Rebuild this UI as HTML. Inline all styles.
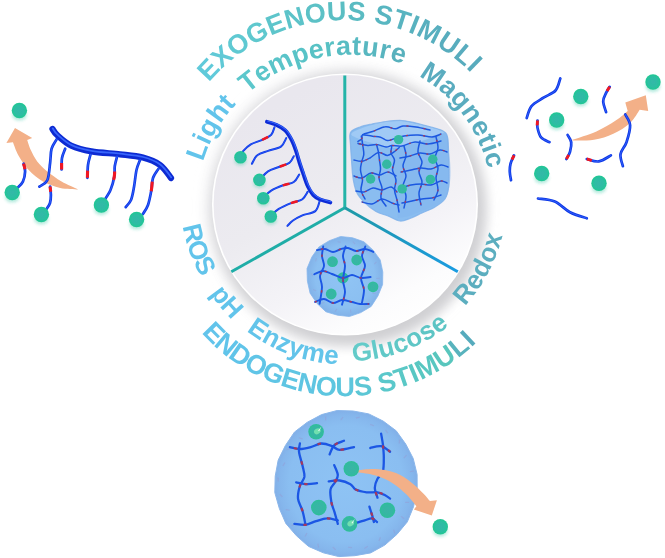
<!DOCTYPE html>
<html><head><meta charset="utf-8"><style>
html,body{margin:0;padding:0;background:#fff;width:665px;height:558px;overflow:hidden}
</style></head><body>

<svg width="665" height="558" viewBox="0 0 665 558" style="position:absolute;left:0;top:0">
<defs>
  <linearGradient id="gDisk" gradientUnits="userSpaceOnUse" x1="285" y1="100" x2="415" y2="330">
    <stop offset="0" stop-color="#e9e7ee"/><stop offset="0.38" stop-color="#ecebf0"/><stop offset="0.66" stop-color="#f4f3f7"/><stop offset="0.86" stop-color="#fcfcfd"/><stop offset="1" stop-color="#ffffff"/>
  </linearGradient>
  <filter id="soft" x="-5%" y="-5%" width="110%" height="110%"><feGaussianBlur stdDeviation="0.35"/></filter>
  <filter id="blur1" x="-50%" y="-50%" width="200%" height="200%"><feGaussianBlur stdDeviation="1"/></filter>
  <filter id="blur2" x="-50%" y="-50%" width="200%" height="200%"><feGaussianBlur stdDeviation="1.6"/></filter>
  <filter id="blur6" x="-20%" y="-20%" width="140%" height="140%"><feGaussianBlur stdDeviation="6"/></filter>
  <linearGradient id="gLineR" gradientUnits="userSpaceOnUse" x1="345" y1="208" x2="458" y2="272">
    <stop offset="0" stop-color="#1f9aa6"/><stop offset="0.5" stop-color="#1c98c4"/><stop offset="1" stop-color="#1a9ce2"/>
  </linearGradient>
  <linearGradient id="gArrow" x1="0" y1="0" x2="1" y2="0">
    <stop offset="0" stop-color="#f5b08a"/><stop offset="1" stop-color="#f3a676"/>
  </linearGradient>
</defs>
<rect width="665" height="558" fill="#fff"/>
<!-- disk shadow -->
<ellipse cx="346" cy="206.5" rx="141" ry="140" fill="#eeeef0" filter="url(#blur6)"/>
<ellipse cx="349" cy="209.5" rx="136" ry="135" fill="#cfcfd2" filter="url(#blur6)"/>
<ellipse cx="345" cy="204.5" rx="133" ry="131" fill="#ffffff"/>
<ellipse cx="345" cy="204.5" rx="131.4" ry="129.5" fill="url(#gDisk)"/>
<!-- dividers -->
<g stroke-width="3" stroke-linecap="butt">
  <line x1="344.8" y1="75.5" x2="344.8" y2="209" stroke="#24b4a8"/>
  <line x1="344.8" y1="207.8" x2="231.3" y2="271.8" stroke="#1fada7"/>
  <line x1="344.8" y1="207.8" x2="457.8" y2="271.8" stroke="url(#gLineR)"/>
</g>
<g filter="url(#soft)"><defs>
  <radialGradient id="gBall" cx="0.5" cy="0.5" r="0.5">
    <stop offset="0" stop-color="#32b8a8"/><stop offset="0.65" stop-color="#2cbea2"/><stop offset="1" stop-color="#1fc892"/>
  </radialGradient>
  <radialGradient id="gBallIn" cx="0.5" cy="0.5" r="0.5">
    <stop offset="0" stop-color="#3ab4a6"/><stop offset="0.7" stop-color="#34b8a2"/><stop offset="1" stop-color="#2cc096"/>
  </radialGradient>
  <radialGradient id="gSph" cx="0.5" cy="0.5" r="0.5">
    <stop offset="0" stop-color="#90c4f4"/><stop offset="0.78" stop-color="#8bbff1"/><stop offset="1" stop-color="#82b2e8"/>
  </radialGradient>
  <radialGradient id="gSphB" cx="0.5" cy="0.5" r="0.5">
    <stop offset="0" stop-color="#8ec3f4"/><stop offset="0.8" stop-color="#8abef1"/><stop offset="0.94" stop-color="#85b6ec"/><stop offset="1" stop-color="#82b0e8"/>
  </radialGradient>
</defs><path d="M78.1,189.5 C75.3,188.2 66.7,184.6 61.6,181.6 C56.5,178.6 51.4,174.9 47.3,171.6 C43.2,168.2 40.0,165.1 37.2,161.5 C34.5,157.9 32.5,153.7 30.8,150.1 C29.1,146.5 27.8,141.7 27.2,140.0 L32.2,137.9 L15.0,127.9 L6.4,142.9 L12.9,142.2 C13.9,144.5 16.0,151.2 18.6,155.8 C21.2,160.5 24.6,165.8 28.7,170.1 C32.8,174.4 37.8,178.6 43.0,181.6 C48.2,184.6 54.4,186.7 60.2,188.0 C66.0,189.3 75.1,189.2 78.1,189.5Z" fill="#f3b088"/><path d="M52.5,129.0 C53.3,130.0 54.0,132.2 57.1,135.0 C60.2,137.8 65.7,143.0 71.4,145.7 C77.1,148.4 83.3,150.0 91.4,151.4 C99.5,152.8 111.4,153.3 120.0,154.3 C128.6,155.3 136.2,155.8 142.9,157.6 C149.6,159.4 155.3,161.6 160.0,165.0 C164.7,168.4 169.2,175.8 171.0,178.0" fill="none" stroke="#0a2ad2" stroke-width="6.2" stroke-linecap="round"/><path d="M52.5,129.0 C53.3,130.0 54.0,132.2 57.1,135.0 C60.2,137.8 65.7,143.0 71.4,145.7 C77.1,148.4 83.3,150.0 91.4,151.4 C99.5,152.8 111.4,153.3 120.0,154.3 C128.6,155.3 136.2,155.8 142.9,157.6 C149.6,159.4 155.3,161.6 160.0,165.0 C164.7,168.4 169.2,175.8 171.0,178.0" fill="none" stroke="#3d6cff" stroke-width="1.8" stroke-linecap="round" transform="translate(0.2,-0.6)" opacity="0.9"/><path d="M56.6,139.3 C55.8,140.9 52.7,144.8 51.6,148.7 C50.5,152.6 50.8,157.8 50.1,163.0 C49.4,168.2 49.1,176.3 47.3,180.2 C45.5,184.1 40.7,185.5 39.4,186.6" fill="none" stroke="#0b36e6" stroke-width="2.7" stroke-linecap="round"/><path d="M56.6,139.3 C55.8,140.9 52.7,144.8 51.6,148.7 C50.5,152.6 50.8,157.8 50.1,163.0 C49.4,168.2 49.1,176.3 47.3,180.2 C45.5,184.1 40.7,185.5 39.4,186.6" fill="none" stroke="#3f6cff" stroke-width="0.94" stroke-linecap="round" opacity="0.8"/><path d="M65.2,148.7 C64.7,150.2 62.6,154.5 62.0,158.0 C61.4,161.5 61.7,167.6 61.6,169.5" fill="none" stroke="#0b36e6" stroke-width="2.7" stroke-linecap="round"/><path d="M65.2,148.7 C64.7,150.2 62.6,154.5 62.0,158.0 C61.4,161.5 61.7,167.6 61.6,169.5" fill="none" stroke="#3f6cff" stroke-width="0.94" stroke-linecap="round" opacity="0.8"/><path d="M65.2,148.7 C64.7,150.2 62.6,154.5 62.0,158.0 C61.4,161.5 61.7,167.6 61.6,169.5" pathLength="100" fill="none" stroke="#f01822" stroke-width="3.1" stroke-dasharray="0 70 30 200"/><path d="M90.5,154.5 C90.1,156.2 88.5,161.1 88.0,165.0 C87.5,168.9 87.5,175.7 87.4,177.8" fill="none" stroke="#0b36e6" stroke-width="2.7" stroke-linecap="round"/><path d="M90.5,154.5 C90.1,156.2 88.5,161.1 88.0,165.0 C87.5,168.9 87.5,175.7 87.4,177.8" fill="none" stroke="#3f6cff" stroke-width="0.94" stroke-linecap="round" opacity="0.8"/><path d="M90.5,154.5 C90.1,156.2 88.5,161.1 88.0,165.0 C87.5,168.9 87.5,175.7 87.4,177.8" pathLength="100" fill="none" stroke="#f01822" stroke-width="3.1" stroke-dasharray="0 70 30 200"/><path d="M117.1,156.5 C116.7,158.1 115.3,162.7 114.8,166.0 C114.3,169.3 115.0,172.5 114.3,176.5 C113.6,180.5 112.3,185.8 110.5,190.0 C108.7,194.2 104.7,199.6 103.5,201.5" fill="none" stroke="#0b36e6" stroke-width="2.7" stroke-linecap="round"/><path d="M117.1,156.5 C116.7,158.1 115.3,162.7 114.8,166.0 C114.3,169.3 115.0,172.5 114.3,176.5 C113.6,180.5 112.3,185.8 110.5,190.0 C108.7,194.2 104.7,199.6 103.5,201.5" fill="none" stroke="#3f6cff" stroke-width="0.94" stroke-linecap="round" opacity="0.8"/><path d="M117.1,156.5 C116.7,158.1 115.3,162.7 114.8,166.0 C114.3,169.3 115.0,172.5 114.3,176.5 C113.6,180.5 112.3,185.8 110.5,190.0 C108.7,194.2 104.7,199.6 103.5,201.5" pathLength="100" fill="none" stroke="#f01822" stroke-width="3.1" stroke-dasharray="0 32 18 200"/><path d="M140.0,160.0 C139.4,161.7 137.5,165.5 136.5,170.0 C135.5,174.5 134.9,182.0 134.0,187.0 C133.1,192.0 132.4,196.7 131.0,200.0 C129.6,203.3 126.6,205.9 125.7,207.1" fill="none" stroke="#0b36e6" stroke-width="2.7" stroke-linecap="round"/><path d="M140.0,160.0 C139.4,161.7 137.5,165.5 136.5,170.0 C135.5,174.5 134.9,182.0 134.0,187.0 C133.1,192.0 132.4,196.7 131.0,200.0 C129.6,203.3 126.6,205.9 125.7,207.1" fill="none" stroke="#3f6cff" stroke-width="0.94" stroke-linecap="round" opacity="0.8"/><path d="M158.6,168.6 C157.7,170.2 154.2,174.4 153.0,178.0 C151.8,181.6 152.2,185.5 151.4,190.0 C150.6,194.5 149.4,201.0 148.0,205.0 C146.6,209.0 143.8,212.5 142.9,214.0" fill="none" stroke="#0b36e6" stroke-width="2.7" stroke-linecap="round"/><path d="M158.6,168.6 C157.7,170.2 154.2,174.4 153.0,178.0 C151.8,181.6 152.2,185.5 151.4,190.0 C150.6,194.5 149.4,201.0 148.0,205.0 C146.6,209.0 143.8,212.5 142.9,214.0" fill="none" stroke="#3f6cff" stroke-width="0.94" stroke-linecap="round" opacity="0.8"/><path d="M158.6,168.6 C157.7,170.2 154.2,174.4 153.0,178.0 C151.8,181.6 152.2,185.5 151.4,190.0 C150.6,194.5 149.4,201.0 148.0,205.0 C146.6,209.0 143.8,212.5 142.9,214.0" pathLength="100" fill="none" stroke="#f01822" stroke-width="3.1" stroke-dasharray="0 30 20 200"/><path d="M23.6,163.7 C23.9,165.0 25.2,168.6 25.1,171.6 C25.0,174.6 24.1,179.0 22.9,181.6 C21.7,184.2 18.7,186.4 17.9,187.3" fill="none" stroke="#0b36e6" stroke-width="2.7" stroke-linecap="round"/><path d="M23.6,163.7 C23.9,165.0 25.2,168.6 25.1,171.6 C25.0,174.6 24.1,179.0 22.9,181.6 C21.7,184.2 18.7,186.4 17.9,187.3" fill="none" stroke="#3f6cff" stroke-width="0.94" stroke-linecap="round" opacity="0.8"/><path d="M23.6,163.7 C23.9,165.0 25.2,168.6 25.1,171.6 C25.0,174.6 24.1,179.0 22.9,181.6 C21.7,184.2 18.7,186.4 17.9,187.3" pathLength="100" fill="none" stroke="#f01822" stroke-width="3.1" stroke-dasharray="0 0 22 200"/><path d="M50.1,186.6 C50.2,188.0 50.9,192.3 50.9,195.0 C50.9,197.7 50.7,200.7 50.0,203.0 C49.3,205.3 47.1,208.0 46.5,209.0" fill="none" stroke="#0b36e6" stroke-width="2.7" stroke-linecap="round"/><path d="M50.1,186.6 C50.2,188.0 50.9,192.3 50.9,195.0 C50.9,197.7 50.7,200.7 50.0,203.0 C49.3,205.3 47.1,208.0 46.5,209.0" fill="none" stroke="#3f6cff" stroke-width="0.94" stroke-linecap="round" opacity="0.8"/><path d="M50.1,186.6 C50.2,188.0 50.9,192.3 50.9,195.0 C50.9,197.7 50.7,200.7 50.0,203.0 C49.3,205.3 47.1,208.0 46.5,209.0" pathLength="100" fill="none" stroke="#f01822" stroke-width="3.1" stroke-dasharray="0 0 22 200"/><ellipse cx="19.4" cy="115.1" rx="7.3" ry="5.4" fill="#2ec4a0" opacity="0.35" filter="url(#blur2)"/><circle cx="19.4" cy="110.5" r="7.7" fill="url(#gBall)"/><ellipse cx="12.2" cy="197.1" rx="7.3" ry="5.4" fill="#2ec4a0" opacity="0.35" filter="url(#blur2)"/><circle cx="12.2" cy="192.5" r="7.7" fill="url(#gBall)"/><ellipse cx="41.4" cy="219.1" rx="7.3" ry="5.4" fill="#2ec4a0" opacity="0.35" filter="url(#blur2)"/><circle cx="41.4" cy="214.5" r="7.7" fill="url(#gBall)"/><ellipse cx="101.4" cy="209.6" rx="7.3" ry="5.4" fill="#2ec4a0" opacity="0.35" filter="url(#blur2)"/><circle cx="101.4" cy="205.0" r="7.7" fill="url(#gBall)"/><ellipse cx="136.6" cy="224.1" rx="7.3" ry="5.4" fill="#2ec4a0" opacity="0.35" filter="url(#blur2)"/><circle cx="136.6" cy="219.5" r="7.7" fill="url(#gBall)"/><path d="M572.4,139.8 C576.4,138.4 589.2,134.6 596.4,131.4 C603.6,128.2 610.5,123.9 615.7,120.5 C620.9,117.1 625.7,112.5 627.7,110.9 L625.3,102.5 L645.8,95.3 L648.2,110.9 L639.7,109.7 C638.1,111.9 634.5,118.9 630.1,122.9 C625.7,126.9 619.3,131.0 613.3,133.8 C607.3,136.6 600.8,138.7 594.0,139.8 C587.2,140.9 576.0,140.5 572.4,140.6Z" fill="#f3b088"/><path d="M526.7,118.1 C527.5,116.1 528.7,109.5 531.5,106.1 C534.3,102.7 539.5,100.3 543.5,97.7 C547.5,95.1 552.7,93.7 555.5,90.5 C558.3,87.3 559.5,80.4 560.3,78.4" fill="none" stroke="#0b36e6" stroke-width="2.7" stroke-linecap="round"/><path d="M526.7,118.1 C527.5,116.1 528.7,109.5 531.5,106.1 C534.3,102.7 539.5,100.3 543.5,97.7 C547.5,95.1 552.7,93.7 555.5,90.5 C558.3,87.3 559.5,80.4 560.3,78.4" fill="none" stroke="#3f6cff" stroke-width="0.94" stroke-linecap="round" opacity="0.8"/><path d="M609.7,86.8 C609.1,87.8 607.2,90.5 606.1,92.9 C605.0,95.3 603.2,98.1 603.2,101.3 C603.2,104.5 605.6,110.3 606.1,112.1" fill="none" stroke="#0b36e6" stroke-width="2.7" stroke-linecap="round"/><path d="M609.7,86.8 C609.1,87.8 607.2,90.5 606.1,92.9 C605.0,95.3 603.2,98.1 603.2,101.3 C603.2,104.5 605.6,110.3 606.1,112.1" fill="none" stroke="#3f6cff" stroke-width="0.94" stroke-linecap="round" opacity="0.8"/><path d="M609.7,86.8 C609.1,87.8 607.2,90.5 606.1,92.9 C605.0,95.3 603.2,98.1 603.2,101.3 C603.2,104.5 605.6,110.3 606.1,112.1" pathLength="100" fill="none" stroke="#f01822" stroke-width="2.9" stroke-dasharray="0 0 18 200"/><path d="M537.5,120.5 C537.5,121.7 536.9,124.9 537.5,127.7 C538.1,130.5 539.1,135.0 541.1,137.4 C543.1,139.8 548.1,141.4 549.5,142.2" fill="none" stroke="#0b36e6" stroke-width="2.7" stroke-linecap="round"/><path d="M537.5,120.5 C537.5,121.7 536.9,124.9 537.5,127.7 C538.1,130.5 539.1,135.0 541.1,137.4 C543.1,139.8 548.1,141.4 549.5,142.2" fill="none" stroke="#3f6cff" stroke-width="0.94" stroke-linecap="round" opacity="0.8"/><path d="M537.5,120.5 C537.5,121.7 536.9,124.9 537.5,127.7 C538.1,130.5 539.1,135.0 541.1,137.4 C543.1,139.8 548.1,141.4 549.5,142.2" pathLength="100" fill="none" stroke="#f01822" stroke-width="2.9" stroke-dasharray="0 0 18 200"/><path d="M567.6,135.0 C568.2,136.2 570.8,139.4 571.2,142.2 C571.6,145.0 570.8,149.0 570.0,151.8 C569.2,154.6 567.0,157.8 566.4,159.0" fill="none" stroke="#0b36e6" stroke-width="2.7" stroke-linecap="round"/><path d="M567.6,135.0 C568.2,136.2 570.8,139.4 571.2,142.2 C571.6,145.0 570.8,149.0 570.0,151.8 C569.2,154.6 567.0,157.8 566.4,159.0" fill="none" stroke="#3f6cff" stroke-width="0.94" stroke-linecap="round" opacity="0.8"/><path d="M567.6,135.0 C568.2,136.2 570.8,139.4 571.2,142.2 C571.6,145.0 570.8,149.0 570.0,151.8 C569.2,154.6 567.0,157.8 566.4,159.0" pathLength="100" fill="none" stroke="#f01822" stroke-width="2.9" stroke-dasharray="0 82 18 200"/><path d="M586.8,159.0 C588.8,159.4 594.8,162.0 598.8,161.4 C602.8,160.8 608.9,156.4 610.9,155.4" fill="none" stroke="#0b36e6" stroke-width="2.7" stroke-linecap="round"/><path d="M586.8,159.0 C588.8,159.4 594.8,162.0 598.8,161.4 C602.8,160.8 608.9,156.4 610.9,155.4" fill="none" stroke="#3f6cff" stroke-width="0.94" stroke-linecap="round" opacity="0.8"/><path d="M586.8,159.0 C588.8,159.4 594.8,162.0 598.8,161.4 C602.8,160.8 608.9,156.4 610.9,155.4" pathLength="100" fill="none" stroke="#f01822" stroke-width="2.9" stroke-dasharray="0 0 20 200"/><path d="M625.3,114.5 C626.1,116.3 629.9,120.7 630.1,125.3 C630.3,129.9 628.1,137.4 626.5,142.2 C624.9,147.0 621.1,150.2 620.5,154.2 C619.9,158.2 622.5,164.2 622.9,166.2" fill="none" stroke="#0b36e6" stroke-width="2.7" stroke-linecap="round"/><path d="M625.3,114.5 C626.1,116.3 629.9,120.7 630.1,125.3 C630.3,129.9 628.1,137.4 626.5,142.2 C624.9,147.0 621.1,150.2 620.5,154.2 C619.9,158.2 622.5,164.2 622.9,166.2" fill="none" stroke="#3f6cff" stroke-width="0.94" stroke-linecap="round" opacity="0.8"/><path d="M514.0,155.4 C513.4,156.8 511.2,161.0 510.5,163.8 C509.8,166.6 509.7,169.3 509.8,172.0 C509.9,174.7 510.8,178.8 511.0,180.2" fill="none" stroke="#0b36e6" stroke-width="2.7" stroke-linecap="round"/><path d="M514.0,155.4 C513.4,156.8 511.2,161.0 510.5,163.8 C509.8,166.6 509.7,169.3 509.8,172.0 C509.9,174.7 510.8,178.8 511.0,180.2" fill="none" stroke="#3f6cff" stroke-width="0.94" stroke-linecap="round" opacity="0.8"/><path d="M514.0,155.4 C513.4,156.8 511.2,161.0 510.5,163.8 C509.8,166.6 509.7,169.3 509.8,172.0 C509.9,174.7 510.8,178.8 511.0,180.2" pathLength="100" fill="none" stroke="#f01822" stroke-width="2.9" stroke-dasharray="0 0 18 200"/><path d="M538.0,198.5 C540.8,199.0 549.5,199.2 554.8,201.5 C560.1,203.8 564.7,209.4 570.0,212.2 C575.3,215.0 584.0,217.3 586.8,218.3" fill="none" stroke="#0b36e6" stroke-width="2.7" stroke-linecap="round"/><path d="M538.0,198.5 C540.8,199.0 549.5,199.2 554.8,201.5 C560.1,203.8 564.7,209.4 570.0,212.2 C575.3,215.0 584.0,217.3 586.8,218.3" fill="none" stroke="#3f6cff" stroke-width="0.94" stroke-linecap="round" opacity="0.8"/><ellipse cx="653" cy="86.6" rx="7.3" ry="5.4" fill="#2ec4a0" opacity="0.35" filter="url(#blur2)"/><circle cx="653" cy="82" r="7.7" fill="url(#gBall)"/><ellipse cx="580.8" cy="101.1" rx="7.3" ry="5.4" fill="#2ec4a0" opacity="0.35" filter="url(#blur2)"/><circle cx="580.8" cy="96.5" r="7.7" fill="url(#gBall)"/><ellipse cx="556.7" cy="124.6" rx="7.3" ry="5.4" fill="#2ec4a0" opacity="0.35" filter="url(#blur2)"/><circle cx="556.7" cy="120" r="7.7" fill="url(#gBall)"/><ellipse cx="541.7" cy="178.1" rx="7.3" ry="5.4" fill="#2ec4a0" opacity="0.35" filter="url(#blur2)"/><circle cx="541.7" cy="173.5" r="7.7" fill="url(#gBall)"/><ellipse cx="599" cy="187.9" rx="7.3" ry="5.4" fill="#2ec4a0" opacity="0.35" filter="url(#blur2)"/><circle cx="599" cy="183.3" r="7.7" fill="url(#gBall)"/><path d="M266.9,121.8 C268.5,122.3 273.6,123.6 276.6,125.0 C279.7,126.4 282.7,127.9 285.2,130.4 C287.7,132.9 289.9,136.7 291.7,140.1 C293.5,143.5 294.8,147.3 296.0,150.9 C297.2,154.5 297.9,157.7 299.2,161.6 C300.4,165.5 302.1,170.4 303.5,174.5 C304.9,178.6 306.2,182.9 307.8,186.3 C309.4,189.7 311.2,192.8 313.2,194.9 C315.2,197.1 316.7,197.9 319.6,199.2 C322.5,200.5 328.6,201.9 330.4,202.5" fill="none" stroke="#0a2ad6" stroke-width="3.8" stroke-linecap="round"/><path d="M266.9,121.8 C268.5,122.3 273.6,123.6 276.6,125.0 C279.7,126.4 282.7,127.9 285.2,130.4 C287.7,132.9 289.9,136.7 291.7,140.1 C293.5,143.5 294.8,147.3 296.0,150.9 C297.2,154.5 297.9,157.7 299.2,161.6 C300.4,165.5 302.1,170.4 303.5,174.5 C304.9,178.6 306.2,182.9 307.8,186.3 C309.4,189.7 311.2,192.8 313.2,194.9 C315.2,197.1 316.7,197.9 319.6,199.2 C322.5,200.5 328.6,201.9 330.4,202.5" fill="none" stroke="#3d6cff" stroke-width="1.1" stroke-linecap="round" opacity="0.85" transform="translate(0.7,-0.7)"/><path d="M274.5,127.2 C273.9,128.4 273.3,132.5 271.2,134.7 C269.1,136.8 265.0,138.5 261.6,140.1 C258.2,141.7 253.9,142.6 250.8,144.4 C247.8,146.2 245.0,149.0 243.3,150.9 C241.6,152.8 241.0,155.2 240.5,156.0" fill="none" stroke="#0b36e6" stroke-width="2.0" stroke-linecap="round"/><path d="M274.5,127.2 C273.9,128.4 273.3,132.5 271.2,134.7 C269.1,136.8 265.0,138.5 261.6,140.1 C258.2,141.7 253.9,142.6 250.8,144.4 C247.8,146.2 245.0,149.0 243.3,150.9 C241.6,152.8 241.0,155.2 240.5,156.0" fill="none" stroke="#3f6cff" stroke-width="0.70" stroke-linecap="round" opacity="0.8"/><path d="M274.5,127.2 C273.9,128.4 273.3,132.5 271.2,134.7 C269.1,136.8 265.0,138.5 261.6,140.1 C258.2,141.7 253.9,142.6 250.8,144.4 C247.8,146.2 245.0,149.0 243.3,150.9 C241.6,152.8 241.0,155.2 240.5,156.0" pathLength="100" fill="none" stroke="#f01822" stroke-width="2.5" stroke-dasharray="0 26 14 200"/><path d="M286.3,138.0 C285.4,139.4 283.9,144.4 280.9,146.6 C277.8,148.8 271.9,149.5 268.0,150.9 C264.1,152.3 260.0,153.0 257.3,155.2 C254.6,157.3 252.8,162.4 251.9,163.8" fill="none" stroke="#0b36e6" stroke-width="2.0" stroke-linecap="round"/><path d="M286.3,138.0 C285.4,139.4 283.9,144.4 280.9,146.6 C277.8,148.8 271.9,149.5 268.0,150.9 C264.1,152.3 260.0,153.0 257.3,155.2 C254.6,157.3 252.8,162.4 251.9,163.8" fill="none" stroke="#3f6cff" stroke-width="0.70" stroke-linecap="round" opacity="0.8"/><path d="M293.8,156.2 C293.1,157.3 292.0,160.9 289.5,162.7 C287.0,164.5 282.4,165.6 278.8,167.0 C275.2,168.4 271.1,169.3 268.0,171.3 C264.9,173.3 261.8,177.6 260.5,178.8" fill="none" stroke="#0b36e6" stroke-width="2.0" stroke-linecap="round"/><path d="M293.8,156.2 C293.1,157.3 292.0,160.9 289.5,162.7 C287.0,164.5 282.4,165.6 278.8,167.0 C275.2,168.4 271.1,169.3 268.0,171.3 C264.9,173.3 261.8,177.6 260.5,178.8" fill="none" stroke="#3f6cff" stroke-width="0.70" stroke-linecap="round" opacity="0.8"/><path d="M293.8,156.2 C293.1,157.3 292.0,160.9 289.5,162.7 C287.0,164.5 282.4,165.6 278.8,167.0 C275.2,168.4 271.1,169.3 268.0,171.3 C264.9,173.3 261.8,177.6 260.5,178.8" pathLength="100" fill="none" stroke="#f01822" stroke-width="2.5" stroke-dasharray="0 28 16 200"/><path d="M299.2,174.5 C298.3,175.8 296.5,180.2 293.8,182.0 C291.1,183.8 286.9,183.9 283.1,185.3 C279.3,186.7 274.4,188.6 271.2,190.6 C268.0,192.6 264.9,196.0 263.7,197.1" fill="none" stroke="#0b36e6" stroke-width="2.0" stroke-linecap="round"/><path d="M299.2,174.5 C298.3,175.8 296.5,180.2 293.8,182.0 C291.1,183.8 286.9,183.9 283.1,185.3 C279.3,186.7 274.4,188.6 271.2,190.6 C268.0,192.6 264.9,196.0 263.7,197.1" fill="none" stroke="#3f6cff" stroke-width="0.70" stroke-linecap="round" opacity="0.8"/><path d="M299.2,174.5 C298.3,175.8 296.5,180.2 293.8,182.0 C291.1,183.8 286.9,183.9 283.1,185.3 C279.3,186.7 274.4,188.6 271.2,190.6 C268.0,192.6 264.9,196.0 263.7,197.1" pathLength="100" fill="none" stroke="#f01822" stroke-width="2.5" stroke-dasharray="0 32 16 200"/><path d="M307.8,191.7 C306.9,192.9 305.1,197.3 302.4,199.2 C299.7,201.1 295.6,201.3 291.7,202.9 C287.8,204.5 282.2,206.8 278.8,208.9 C275.4,211.0 272.5,214.3 271.2,215.4" fill="none" stroke="#0b36e6" stroke-width="2.0" stroke-linecap="round"/><path d="M307.8,191.7 C306.9,192.9 305.1,197.3 302.4,199.2 C299.7,201.1 295.6,201.3 291.7,202.9 C287.8,204.5 282.2,206.8 278.8,208.9 C275.4,211.0 272.5,214.3 271.2,215.4" fill="none" stroke="#3f6cff" stroke-width="0.70" stroke-linecap="round" opacity="0.8"/><path d="M307.8,191.7 C306.9,192.9 305.1,197.3 302.4,199.2 C299.7,201.1 295.6,201.3 291.7,202.9 C287.8,204.5 282.2,206.8 278.8,208.9 C275.4,211.0 272.5,214.3 271.2,215.4" pathLength="100" fill="none" stroke="#f01822" stroke-width="2.5" stroke-dasharray="0 32 16 200"/><path d="M319.6,201.4 C318.9,203.0 318.2,208.8 315.3,211.1 C312.4,213.4 306.1,213.8 302.4,215.4 C298.7,217.0 295.5,218.8 293.0,220.5 C290.5,222.2 288.3,225.0 287.4,225.9" fill="none" stroke="#0b36e6" stroke-width="2.0" stroke-linecap="round"/><path d="M319.6,201.4 C318.9,203.0 318.2,208.8 315.3,211.1 C312.4,213.4 306.1,213.8 302.4,215.4 C298.7,217.0 295.5,218.8 293.0,220.5 C290.5,222.2 288.3,225.0 287.4,225.9" fill="none" stroke="#3f6cff" stroke-width="0.70" stroke-linecap="round" opacity="0.8"/><ellipse cx="240.5" cy="161.1" rx="6.0" ry="4.4" fill="#2ec4a0" opacity="0.35" filter="url(#blur2)"/><circle cx="240.5" cy="157.3" r="6.3" fill="url(#gBall)"/><ellipse cx="259.4" cy="183.7" rx="6.0" ry="4.4" fill="#2ec4a0" opacity="0.35" filter="url(#blur2)"/><circle cx="259.4" cy="179.9" r="6.3" fill="url(#gBall)"/><ellipse cx="263.3" cy="202.0" rx="6.0" ry="4.4" fill="#2ec4a0" opacity="0.35" filter="url(#blur2)"/><circle cx="263.3" cy="198.2" r="6.3" fill="url(#gBall)"/><ellipse cx="270.8" cy="220.3" rx="6.0" ry="4.4" fill="#2ec4a0" opacity="0.35" filter="url(#blur2)"/><circle cx="270.8" cy="216.5" r="6.3" fill="url(#gBall)"/><path d="M350.5,132.5 C352.1,129.5 356.4,128.4 360.0,127.0 C363.6,125.6 367.7,124.9 372.0,124.0 C376.3,123.1 381.0,122.1 386.0,121.5 C391.0,120.9 397.0,120.2 402.0,120.5 C407.0,120.8 411.2,121.9 416.0,123.0 C420.8,124.1 426.5,125.7 431.0,127.0 C435.5,128.3 440.2,129.3 443.0,131.0 C445.8,132.7 446.6,133.0 447.5,137.0 C448.4,141.0 448.2,149.2 448.5,155.0 C448.8,160.8 449.0,166.5 449.0,172.0 C449.0,177.5 449.2,183.5 448.5,188.0 C447.8,192.5 447.2,195.8 445.0,199.0 C442.8,202.2 438.8,204.7 435.0,207.0 C431.2,209.3 426.2,211.1 422.0,213.0 C417.8,214.9 413.7,217.2 410.0,218.5 C406.3,219.8 403.7,221.4 400.0,221.0 C396.3,220.6 392.0,217.6 388.0,216.0 C384.0,214.4 380.0,213.8 376.0,211.5 C372.0,209.2 367.2,205.2 364.0,202.0 C360.8,198.8 358.3,196.0 356.5,192.0 C354.7,188.0 353.8,183.3 353.0,178.0 C352.2,172.7 351.9,165.5 351.5,160.0 C351.1,154.5 350.7,149.6 350.5,145.0 C350.3,140.4 348.9,135.5 350.5,132.5Z" fill="#8abdf0"/><path d="M352.0,133.0 C354.5,130.8 364.3,127.0 372.0,125.0 C379.7,123.0 389.2,120.8 398.0,121.0 C406.8,121.2 417.3,124.2 425.0,126.0 C432.7,127.8 443.5,129.8 444.0,132.0 C444.5,134.2 434.0,136.8 428.0,139.0 C422.0,141.2 414.0,143.5 408.0,145.0 C402.0,146.5 398.0,148.3 392.0,148.0 C386.0,147.7 377.8,144.7 372.0,143.0 C366.2,141.3 360.3,139.7 357.0,138.0 C353.7,136.3 349.5,135.2 352.0,133.0Z" fill="#a9d0f6" opacity="0.7"/><path d="M392.0,148.0 C394.7,147.5 402.0,146.5 408.0,145.0 C414.0,143.5 421.7,140.8 428.0,139.0 C434.3,137.2 442.4,131.3 446.0,134.0 C449.6,136.7 448.8,148.7 449.5,155.0 C450.2,161.3 450.5,166.8 450.5,172.0 C450.5,177.2 450.2,181.8 449.5,186.0 C448.8,190.2 448.2,193.8 446.0,197.0 C443.8,200.2 440.0,202.7 436.0,205.0 C432.0,207.3 426.5,209.2 422.0,211.0 C417.5,212.8 413.0,214.8 409.0,216.0 C405.0,217.2 399.8,217.7 398.0,218.0Z" fill="#84b6ee" opacity="0.55"/><path d="M350.5,132.5 C352.1,129.5 356.4,128.4 360.0,127.0 C363.6,125.6 367.7,124.9 372.0,124.0 C376.3,123.1 381.0,122.1 386.0,121.5 C391.0,120.9 397.0,120.2 402.0,120.5 C407.0,120.8 411.2,121.9 416.0,123.0 C420.8,124.1 426.5,125.7 431.0,127.0 C435.5,128.3 440.2,129.3 443.0,131.0 C445.8,132.7 446.6,133.0 447.5,137.0 C448.4,141.0 448.2,149.2 448.5,155.0 C448.8,160.8 449.0,166.5 449.0,172.0 C449.0,177.5 449.2,183.5 448.5,188.0 C447.8,192.5 447.2,195.8 445.0,199.0 C442.8,202.2 438.8,204.7 435.0,207.0 C431.2,209.3 426.2,211.1 422.0,213.0 C417.8,214.9 413.7,217.2 410.0,218.5 C406.3,219.8 403.7,221.4 400.0,221.0 C396.3,220.6 392.0,217.6 388.0,216.0 C384.0,214.4 380.0,213.8 376.0,211.5 C372.0,209.2 367.2,205.2 364.0,202.0 C360.8,198.8 358.3,196.0 356.5,192.0 C354.7,188.0 353.8,183.3 353.0,178.0 C352.2,172.7 351.9,165.5 351.5,160.0 C351.1,154.5 350.7,149.6 350.5,145.0 C350.3,140.4 348.9,135.5 350.5,132.5Z" fill="none" stroke="#7eb0ea" stroke-width="1.2" opacity="0.8"/><path d="M357.9,141.6 C358.5,141.1 361.0,139.8 361.8,138.6 C362.6,137.4 361.0,135.9 362.8,134.7 C364.6,133.5 368.8,132.8 372.6,131.5 C376.4,130.2 381.6,127.2 385.4,126.8 C389.2,126.3 392.4,128.9 395.3,128.8 C398.2,128.7 399.6,126.3 403.0,126.0 C406.4,125.7 411.5,126.3 416.0,127.0 C420.5,127.7 427.7,129.5 430.0,130.0" fill="none" stroke="#1c58e0" stroke-width="1.5" stroke-linecap="round"/><path d="M362.8,134.7 C364.4,134.9 369.7,135.8 372.6,136.2 C375.6,136.6 378.0,136.5 380.5,137.2 C383.0,137.9 385.1,140.4 387.4,140.6 C389.7,140.8 391.5,139.4 394.3,138.6 C397.1,137.8 400.1,136.6 404.0,136.0 C407.9,135.4 413.3,134.8 418.0,135.0 C422.7,135.2 428.2,137.2 432.0,137.0 C435.8,136.8 439.5,134.5 441.0,134.0" fill="none" stroke="#1c58e0" stroke-width="1.5" stroke-linecap="round"/><path d="M358.0,143.5 C359.6,143.8 364.6,145.3 367.7,145.5 C370.8,145.7 373.6,144.3 376.6,144.6 C379.7,144.8 383.4,146.8 386.0,147.0 C388.6,147.2 389.3,145.7 392.0,145.5 C394.7,145.3 398.2,146.6 402.0,146.0 C405.8,145.4 410.7,142.3 415.0,142.0 C419.3,141.7 423.7,144.2 428.0,144.0 C432.3,143.8 438.8,141.5 441.0,141.0" fill="none" stroke="#1c58e0" stroke-width="1.5" stroke-linecap="round"/><path d="M361.3,136.2 C361.6,137.8 362.4,142.5 362.8,145.5 C363.2,148.5 364.0,151.8 363.8,154.4 C363.6,157.0 362.4,158.7 361.8,161.3 C361.2,163.9 360.4,166.9 360.5,170.0 C360.6,173.1 362.4,176.7 362.5,180.0 C362.6,183.3 360.6,186.8 361.0,190.0 C361.4,193.2 364.3,197.5 365.0,199.0" fill="none" stroke="#1c58e0" stroke-width="1.5" stroke-linecap="round"/><path d="M376.6,144.6 C376.9,145.9 378.0,149.8 378.5,152.4 C379.0,155.0 379.2,157.5 379.5,160.3 C379.8,163.1 380.6,166.2 380.5,169.2 C380.4,172.1 378.8,174.9 379.0,178.0 C379.2,181.1 381.7,184.7 382.0,188.0 C382.3,191.3 380.3,195.0 381.0,198.0 C381.7,201.0 385.2,204.7 386.0,206.0" fill="none" stroke="#1c58e0" stroke-width="1.5" stroke-linecap="round"/><path d="M392.0,145.5 C391.8,146.8 390.6,150.6 391.0,153.0 C391.4,155.4 394.2,157.2 394.5,160.0 C394.8,162.8 392.2,166.7 392.5,170.0 C392.8,173.3 395.7,176.7 396.0,180.0 C396.3,183.3 394.3,186.7 394.5,190.0 C394.7,193.3 396.2,196.3 397.0,200.0 C397.8,203.7 398.7,210.0 399.0,212.0" fill="none" stroke="#1c58e0" stroke-width="1.5" stroke-linecap="round"/><path d="M354.0,160.0 C355.3,160.2 359.1,161.6 361.8,161.3 C364.5,161.0 367.2,159.5 370.0,158.0 C372.8,156.5 375.6,152.8 378.5,152.4 C381.4,152.0 384.9,155.4 387.4,155.4 C389.9,155.4 391.3,153.7 393.3,152.4 C395.3,151.1 398.2,148.3 399.2,147.5" fill="none" stroke="#1c58e0" stroke-width="1.5" stroke-linecap="round"/><path d="M354.0,176.0 C355.3,176.3 359.2,178.5 362.0,178.0 C364.8,177.5 368.0,173.5 371.0,173.0 C374.0,172.5 377.2,175.2 380.0,175.0 C382.8,174.8 385.3,171.8 388.0,172.0 C390.7,172.2 394.7,175.3 396.0,176.0" fill="none" stroke="#1c58e0" stroke-width="1.5" stroke-linecap="round"/><path d="M356.0,191.0 C357.3,191.2 361.2,192.5 364.0,192.0 C366.8,191.5 370.0,188.3 373.0,188.0 C376.0,187.7 379.0,190.2 382.0,190.0 C385.0,189.8 388.5,186.7 391.0,187.0 C393.5,187.3 396.0,191.2 397.0,192.0" fill="none" stroke="#1c58e0" stroke-width="1.5" stroke-linecap="round"/><path d="M362.0,202.0 C363.7,202.3 368.7,204.5 372.0,204.0 C375.3,203.5 378.7,199.2 382.0,199.0 C385.3,198.8 389.2,202.0 392.0,203.0 C394.8,204.0 397.8,204.7 399.0,205.0" fill="none" stroke="#1c58e0" stroke-width="1.5" stroke-linecap="round"/><path d="M404.0,146.0 C404.3,147.7 406.2,152.7 406.0,156.0 C405.8,159.3 403.0,162.7 403.0,166.0 C403.0,169.3 406.0,172.7 406.0,176.0 C406.0,179.3 403.0,182.7 403.0,186.0 C403.0,189.3 405.8,192.3 406.0,196.0 C406.2,199.7 404.3,206.0 404.0,208.0" fill="none" stroke="#1c58e0" stroke-width="1.5" stroke-linecap="round"/><path d="M420.0,141.0 C419.7,142.8 417.7,148.5 418.0,152.0 C418.3,155.5 421.8,158.7 422.0,162.0 C422.2,165.3 419.0,168.7 419.0,172.0 C419.0,175.3 422.0,178.5 422.0,182.0 C422.0,185.5 419.2,189.2 419.0,193.0 C418.8,196.8 420.7,203.0 421.0,205.0" fill="none" stroke="#1c58e0" stroke-width="1.5" stroke-linecap="round"/><path d="M436.0,137.0 C436.3,138.8 438.2,144.5 438.0,148.0 C437.8,151.5 435.0,154.7 435.0,158.0 C435.0,161.3 437.8,164.7 438.0,168.0 C438.2,171.3 436.0,174.3 436.0,178.0 C436.0,181.7 438.3,186.3 438.0,190.0 C437.7,193.7 434.7,198.3 434.0,200.0" fill="none" stroke="#1c58e0" stroke-width="1.5" stroke-linecap="round"/><path d="M400.0,158.0 C401.7,157.7 406.7,156.8 410.0,156.0 C413.3,155.2 416.7,153.3 420.0,153.0 C423.3,152.7 426.7,154.5 430.0,154.0 C433.3,153.5 437.2,150.3 440.0,150.0 C442.8,149.7 445.8,151.7 447.0,152.0" fill="none" stroke="#1c58e0" stroke-width="1.5" stroke-linecap="round"/><path d="M401.0,172.0 C402.7,171.7 407.7,170.7 411.0,170.0 C414.3,169.3 417.7,168.2 421.0,168.0 C424.3,167.8 427.7,169.5 431.0,169.0 C434.3,168.5 438.2,165.3 441.0,165.0 C443.8,164.7 446.8,166.7 448.0,167.0" fill="none" stroke="#1c58e0" stroke-width="1.5" stroke-linecap="round"/><path d="M401.0,188.0 C402.7,187.5 407.7,185.7 411.0,185.0 C414.3,184.3 417.7,184.0 421.0,184.0 C424.3,184.0 427.7,185.5 431.0,185.0 C434.3,184.5 438.3,181.3 441.0,181.0 C443.7,180.7 446.0,182.7 447.0,183.0" fill="none" stroke="#1c58e0" stroke-width="1.5" stroke-linecap="round"/><path d="M402.0,203.0 C403.7,202.7 408.7,201.7 412.0,201.0 C415.3,200.3 418.7,199.5 422.0,199.0 C425.3,198.5 428.8,198.7 432.0,198.0 C435.2,197.3 439.5,195.5 441.0,195.0" fill="none" stroke="#1c58e0" stroke-width="1.5" stroke-linecap="round"/><path d="M357.9,141.6 C358.5,141.1 361.0,139.8 361.8,138.6 C362.6,137.4 361.0,135.9 362.8,134.7 C364.6,133.5 368.8,132.8 372.6,131.5 C376.4,130.2 381.6,127.2 385.4,126.8 C389.2,126.3 392.4,128.9 395.3,128.8 C398.2,128.7 399.6,126.3 403.0,126.0 C406.4,125.7 411.5,126.3 416.0,127.0 C420.5,127.7 427.7,129.5 430.0,130.0" fill="none" stroke="#a8385a" stroke-width="1.20" stroke-dasharray="2 15" stroke-dashoffset="-4"/><path d="M362.8,134.7 C364.4,134.9 369.7,135.8 372.6,136.2 C375.6,136.6 378.0,136.5 380.5,137.2 C383.0,137.9 385.1,140.4 387.4,140.6 C389.7,140.8 391.5,139.4 394.3,138.6 C397.1,137.8 400.1,136.6 404.0,136.0 C407.9,135.4 413.3,134.8 418.0,135.0 C422.7,135.2 428.2,137.2 432.0,137.0 C435.8,136.8 439.5,134.5 441.0,134.0" fill="none" stroke="#a8385a" stroke-width="1.20" stroke-dasharray="2 15" stroke-dashoffset="-11"/><path d="M358.0,143.5 C359.6,143.8 364.6,145.3 367.7,145.5 C370.8,145.7 373.6,144.3 376.6,144.6 C379.7,144.8 383.4,146.8 386.0,147.0 C388.6,147.2 389.3,145.7 392.0,145.5 C394.7,145.3 398.2,146.6 402.0,146.0 C405.8,145.4 410.7,142.3 415.0,142.0 C419.3,141.7 423.7,144.2 428.0,144.0 C432.3,143.8 438.8,141.5 441.0,141.0" fill="none" stroke="#a8385a" stroke-width="1.20" stroke-dasharray="2 15" stroke-dashoffset="-18"/><path d="M361.3,136.2 C361.6,137.8 362.4,142.5 362.8,145.5 C363.2,148.5 364.0,151.8 363.8,154.4 C363.6,157.0 362.4,158.7 361.8,161.3 C361.2,163.9 360.4,166.9 360.5,170.0 C360.6,173.1 362.4,176.7 362.5,180.0 C362.6,183.3 360.6,186.8 361.0,190.0 C361.4,193.2 364.3,197.5 365.0,199.0" fill="none" stroke="#a8385a" stroke-width="1.20" stroke-dasharray="2 15" stroke-dashoffset="-8"/><path d="M376.6,144.6 C376.9,145.9 378.0,149.8 378.5,152.4 C379.0,155.0 379.2,157.5 379.5,160.3 C379.8,163.1 380.6,166.2 380.5,169.2 C380.4,172.1 378.8,174.9 379.0,178.0 C379.2,181.1 381.7,184.7 382.0,188.0 C382.3,191.3 380.3,195.0 381.0,198.0 C381.7,201.0 385.2,204.7 386.0,206.0" fill="none" stroke="#a8385a" stroke-width="1.20" stroke-dasharray="2 15" stroke-dashoffset="-15"/><path d="M392.0,145.5 C391.8,146.8 390.6,150.6 391.0,153.0 C391.4,155.4 394.2,157.2 394.5,160.0 C394.8,162.8 392.2,166.7 392.5,170.0 C392.8,173.3 395.7,176.7 396.0,180.0 C396.3,183.3 394.3,186.7 394.5,190.0 C394.7,193.3 396.2,196.3 397.0,200.0 C397.8,203.7 398.7,210.0 399.0,212.0" fill="none" stroke="#a8385a" stroke-width="1.20" stroke-dasharray="2 15" stroke-dashoffset="-5"/><path d="M354.0,160.0 C355.3,160.2 359.1,161.6 361.8,161.3 C364.5,161.0 367.2,159.5 370.0,158.0 C372.8,156.5 375.6,152.8 378.5,152.4 C381.4,152.0 384.9,155.4 387.4,155.4 C389.9,155.4 391.3,153.7 393.3,152.4 C395.3,151.1 398.2,148.3 399.2,147.5" fill="none" stroke="#a8385a" stroke-width="1.20" stroke-dasharray="2 15" stroke-dashoffset="-12"/><path d="M354.0,176.0 C355.3,176.3 359.2,178.5 362.0,178.0 C364.8,177.5 368.0,173.5 371.0,173.0 C374.0,172.5 377.2,175.2 380.0,175.0 C382.8,174.8 385.3,171.8 388.0,172.0 C390.7,172.2 394.7,175.3 396.0,176.0" fill="none" stroke="#a8385a" stroke-width="1.20" stroke-dasharray="2 15" stroke-dashoffset="-19"/><path d="M356.0,191.0 C357.3,191.2 361.2,192.5 364.0,192.0 C366.8,191.5 370.0,188.3 373.0,188.0 C376.0,187.7 379.0,190.2 382.0,190.0 C385.0,189.8 388.5,186.7 391.0,187.0 C393.5,187.3 396.0,191.2 397.0,192.0" fill="none" stroke="#a8385a" stroke-width="1.20" stroke-dasharray="2 15" stroke-dashoffset="-9"/><path d="M362.0,202.0 C363.7,202.3 368.7,204.5 372.0,204.0 C375.3,203.5 378.7,199.2 382.0,199.0 C385.3,198.8 389.2,202.0 392.0,203.0 C394.8,204.0 397.8,204.7 399.0,205.0" fill="none" stroke="#a8385a" stroke-width="1.20" stroke-dasharray="2 15" stroke-dashoffset="-16"/><path d="M404.0,146.0 C404.3,147.7 406.2,152.7 406.0,156.0 C405.8,159.3 403.0,162.7 403.0,166.0 C403.0,169.3 406.0,172.7 406.0,176.0 C406.0,179.3 403.0,182.7 403.0,186.0 C403.0,189.3 405.8,192.3 406.0,196.0 C406.2,199.7 404.3,206.0 404.0,208.0" fill="none" stroke="#a8385a" stroke-width="1.20" stroke-dasharray="2 15" stroke-dashoffset="-6"/><path d="M420.0,141.0 C419.7,142.8 417.7,148.5 418.0,152.0 C418.3,155.5 421.8,158.7 422.0,162.0 C422.2,165.3 419.0,168.7 419.0,172.0 C419.0,175.3 422.0,178.5 422.0,182.0 C422.0,185.5 419.2,189.2 419.0,193.0 C418.8,196.8 420.7,203.0 421.0,205.0" fill="none" stroke="#a8385a" stroke-width="1.20" stroke-dasharray="2 15" stroke-dashoffset="-13"/><path d="M436.0,137.0 C436.3,138.8 438.2,144.5 438.0,148.0 C437.8,151.5 435.0,154.7 435.0,158.0 C435.0,161.3 437.8,164.7 438.0,168.0 C438.2,171.3 436.0,174.3 436.0,178.0 C436.0,181.7 438.3,186.3 438.0,190.0 C437.7,193.7 434.7,198.3 434.0,200.0" fill="none" stroke="#a8385a" stroke-width="1.20" stroke-dasharray="2 15" stroke-dashoffset="-20"/><path d="M400.0,158.0 C401.7,157.7 406.7,156.8 410.0,156.0 C413.3,155.2 416.7,153.3 420.0,153.0 C423.3,152.7 426.7,154.5 430.0,154.0 C433.3,153.5 437.2,150.3 440.0,150.0 C442.8,149.7 445.8,151.7 447.0,152.0" fill="none" stroke="#a8385a" stroke-width="1.20" stroke-dasharray="2 15" stroke-dashoffset="-10"/><path d="M401.0,172.0 C402.7,171.7 407.7,170.7 411.0,170.0 C414.3,169.3 417.7,168.2 421.0,168.0 C424.3,167.8 427.7,169.5 431.0,169.0 C434.3,168.5 438.2,165.3 441.0,165.0 C443.8,164.7 446.8,166.7 448.0,167.0" fill="none" stroke="#a8385a" stroke-width="1.20" stroke-dasharray="2 15" stroke-dashoffset="-17"/><path d="M401.0,188.0 C402.7,187.5 407.7,185.7 411.0,185.0 C414.3,184.3 417.7,184.0 421.0,184.0 C424.3,184.0 427.7,185.5 431.0,185.0 C434.3,184.5 438.3,181.3 441.0,181.0 C443.7,180.7 446.0,182.7 447.0,183.0" fill="none" stroke="#a8385a" stroke-width="1.20" stroke-dasharray="2 15" stroke-dashoffset="-7"/><path d="M402.0,203.0 C403.7,202.7 408.7,201.7 412.0,201.0 C415.3,200.3 418.7,199.5 422.0,199.0 C425.3,198.5 428.8,198.7 432.0,198.0 C435.2,197.3 439.5,195.5 441.0,195.0" fill="none" stroke="#a8385a" stroke-width="1.20" stroke-dasharray="2 15" stroke-dashoffset="-14"/><circle cx="398.6" cy="139.6" r="4.7" fill="url(#gBallIn)"/><circle cx="386.8" cy="164.2" r="4.7" fill="url(#gBallIn)"/><circle cx="432.8" cy="159.3" r="4.7" fill="url(#gBallIn)"/><circle cx="370.6" cy="179" r="4.7" fill="url(#gBallIn)"/><circle cx="402.2" cy="188.9" r="4.7" fill="url(#gBallIn)"/><circle cx="430.4" cy="179.4" r="4.7" fill="url(#gBallIn)"/><path d="M382.6,284.5 L377.9,296.0 L371.2,306.4 L360.8,312.6 L349.4,316.5 L337.5,315.2 L325.9,311.8 L317.0,303.4 L310.1,293.2 L307.4,281.1 L307.0,268.6 L311.8,257.1 L318.9,247.0 L329.3,240.7 L340.6,236.5 L352.6,237.8 L363.9,241.8 L372.9,249.9 L380.2,259.9 L382.8,272.1Z" fill="url(#gSph)" stroke="#86b6ec" stroke-width="0.8" stroke-linejoin="round"/><rect x="372.4" y="292.9" width="3.2" height="1" fill="#9a8ec8" opacity="0.3" transform="rotate(0 374.0 293.4)"/><rect x="362.6" y="304.5" width="3.2" height="1" fill="#9a8ec8" opacity="0.3" transform="rotate(41 364.2 305.0)"/><rect x="349.1" y="310.6" width="3.2" height="1" fill="#9a8ec8" opacity="0.3" transform="rotate(82 350.7 311.1)"/><rect x="334.4" y="309.8" width="3.2" height="1" fill="#9a8ec8" opacity="0.3" transform="rotate(123 336.0 310.3)"/><rect x="321.5" y="302.3" width="3.2" height="1" fill="#9a8ec8" opacity="0.3" transform="rotate(164 323.1 302.8)"/><rect x="313.0" y="289.7" width="3.2" height="1" fill="#9a8ec8" opacity="0.3" transform="rotate(25 314.6 290.2)"/><rect x="310.4" y="274.3" width="3.2" height="1" fill="#9a8ec8" opacity="0.3" transform="rotate(66 312.0 274.8)"/><rect x="314.4" y="259.3" width="3.2" height="1" fill="#9a8ec8" opacity="0.3" transform="rotate(107 316.0 259.8)"/><rect x="324.2" y="247.7" width="3.2" height="1" fill="#9a8ec8" opacity="0.3" transform="rotate(148 325.8 248.2)"/><rect x="337.7" y="241.6" width="3.2" height="1" fill="#9a8ec8" opacity="0.3" transform="rotate(9 339.3 242.1)"/><rect x="352.4" y="242.4" width="3.2" height="1" fill="#9a8ec8" opacity="0.3" transform="rotate(50 354.0 242.9)"/><rect x="365.3" y="249.9" width="3.2" height="1" fill="#9a8ec8" opacity="0.3" transform="rotate(91 366.9 250.4)"/><rect x="373.8" y="262.5" width="3.2" height="1" fill="#9a8ec8" opacity="0.3" transform="rotate(132 375.4 263.0)"/><rect x="376.4" y="277.9" width="3.2" height="1" fill="#9a8ec8" opacity="0.3" transform="rotate(173 378.0 278.4)"/><circle cx="342.9" cy="277.9" r="5.6" fill="url(#gBallIn)"/><path d="M316.9,250.1 C318.2,249.9 322.3,248.7 325.0,249.0 C327.7,249.3 330.3,252.0 333.0,252.0 C335.7,252.0 338.5,249.7 341.0,249.0 C343.5,248.3 345.5,247.7 348.0,248.0 C350.5,248.3 353.2,250.8 356.0,251.0 C358.8,251.2 362.1,248.8 365.0,249.0 C367.9,249.2 371.9,251.4 373.3,251.9" fill="none" stroke="#1a56e4" stroke-width="1.9" stroke-linecap="round"/><path d="M314.2,274.3 C315.7,273.8 320.0,271.1 323.0,271.0 C326.0,270.9 328.7,272.8 332.0,274.0 C335.3,275.2 339.7,277.8 343.0,278.0 C346.3,278.2 349.0,275.0 352.0,275.0 C355.0,275.0 357.9,277.7 361.0,278.0 C364.1,278.3 369.0,277.2 370.6,277.0" fill="none" stroke="#1a56e4" stroke-width="1.9" stroke-linecap="round"/><path d="M315.0,302.0 C316.5,301.5 321.0,298.8 324.0,299.0 C327.0,299.2 330.0,302.8 333.0,303.0 C336.0,303.2 338.8,300.2 342.0,300.0 C345.2,299.8 349.0,301.3 352.0,302.0 C355.0,302.7 357.2,303.7 360.0,304.0 C362.8,304.3 367.4,303.9 368.9,303.9" fill="none" stroke="#1a56e4" stroke-width="1.9" stroke-linecap="round"/><path d="M323.2,246.5 C323.0,248.1 321.9,252.8 322.0,256.0 C322.1,259.2 324.3,262.7 324.0,266.0 C323.7,269.3 320.3,272.5 320.0,276.0 C319.7,279.5 322.1,282.4 322.0,287.0 C321.9,291.6 320.0,301.1 319.6,303.9" fill="none" stroke="#1a56e4" stroke-width="1.9" stroke-linecap="round"/><path d="M345.6,246.5 C345.2,248.1 343.1,252.8 343.0,256.0 C342.9,259.2 345.0,262.0 345.0,266.0 C345.0,270.0 343.0,275.7 343.0,280.0 C343.0,284.3 345.2,287.9 345.0,292.0 C344.8,296.1 342.5,302.6 342.0,304.7" fill="none" stroke="#1a56e4" stroke-width="1.9" stroke-linecap="round"/><path d="M365.3,246.5 C364.8,248.1 362.1,252.8 362.0,256.0 C361.9,259.2 365.2,262.3 365.0,266.0 C364.8,269.7 361.2,274.0 361.0,278.0 C360.8,282.0 363.9,285.7 364.0,290.0 C364.1,294.3 362.1,301.6 361.7,303.9" fill="none" stroke="#1a56e4" stroke-width="1.9" stroke-linecap="round"/><path d="M316.9,250.1 C318.2,249.9 322.3,248.7 325.0,249.0 C327.7,249.3 330.3,252.0 333.0,252.0 C335.7,252.0 338.5,249.7 341.0,249.0 C343.5,248.3 345.5,247.7 348.0,248.0 C350.5,248.3 353.2,250.8 356.0,251.0 C358.8,251.2 362.1,248.8 365.0,249.0 C367.9,249.2 371.9,251.4 373.3,251.9" fill="none" stroke="#a8385a" stroke-width="1.50" stroke-dasharray="2.5 16" stroke-dashoffset="-4"/><path d="M314.2,274.3 C315.7,273.8 320.0,271.1 323.0,271.0 C326.0,270.9 328.7,272.8 332.0,274.0 C335.3,275.2 339.7,277.8 343.0,278.0 C346.3,278.2 349.0,275.0 352.0,275.0 C355.0,275.0 357.9,277.7 361.0,278.0 C364.1,278.3 369.0,277.2 370.6,277.0" fill="none" stroke="#a8385a" stroke-width="1.50" stroke-dasharray="2.5 16" stroke-dashoffset="-11"/><path d="M315.0,302.0 C316.5,301.5 321.0,298.8 324.0,299.0 C327.0,299.2 330.0,302.8 333.0,303.0 C336.0,303.2 338.8,300.2 342.0,300.0 C345.2,299.8 349.0,301.3 352.0,302.0 C355.0,302.7 357.2,303.7 360.0,304.0 C362.8,304.3 367.4,303.9 368.9,303.9" fill="none" stroke="#a8385a" stroke-width="1.50" stroke-dasharray="2.5 16" stroke-dashoffset="-18"/><path d="M323.2,246.5 C323.0,248.1 321.9,252.8 322.0,256.0 C322.1,259.2 324.3,262.7 324.0,266.0 C323.7,269.3 320.3,272.5 320.0,276.0 C319.7,279.5 322.1,282.4 322.0,287.0 C321.9,291.6 320.0,301.1 319.6,303.9" fill="none" stroke="#a8385a" stroke-width="1.50" stroke-dasharray="2.5 16" stroke-dashoffset="-8"/><path d="M345.6,246.5 C345.2,248.1 343.1,252.8 343.0,256.0 C342.9,259.2 345.0,262.0 345.0,266.0 C345.0,270.0 343.0,275.7 343.0,280.0 C343.0,284.3 345.2,287.9 345.0,292.0 C344.8,296.1 342.5,302.6 342.0,304.7" fill="none" stroke="#a8385a" stroke-width="1.50" stroke-dasharray="2.5 16" stroke-dashoffset="-15"/><path d="M365.3,246.5 C364.8,248.1 362.1,252.8 362.0,256.0 C361.9,259.2 365.2,262.3 365.0,266.0 C364.8,269.7 361.2,274.0 361.0,278.0 C360.8,282.0 363.9,285.7 364.0,290.0 C364.1,294.3 362.1,301.6 361.7,303.9" fill="none" stroke="#a8385a" stroke-width="1.50" stroke-dasharray="2.5 16" stroke-dashoffset="-5"/><circle cx="332.5" cy="261.7" r="5.4" fill="url(#gBallIn)"/><circle cx="356.7" cy="260" r="5.4" fill="url(#gBallIn)"/><circle cx="373" cy="286.8" r="5.4" fill="url(#gBallIn)"/><circle cx="331.2" cy="294" r="5.4" fill="url(#gBallIn)"/><path d="M417.2,490.8 L413.5,506.8 L407.3,521.9 L396.9,534.4 L384.8,545.1 L370.6,552.9 L354.8,555.7 L338.8,556.6 L323.3,552.8 L308.5,546.4 L296.4,535.7 L285.8,523.4 L279.3,508.4 L274.8,492.6 L275.2,476.2 L278.2,460.1 L285.4,445.5 L294.5,432.0 L307.4,422.2 L321.6,414.6 L337.1,410.5 L353.1,411.0 L368.8,413.9 L383.2,421.1 L396.2,430.8 L405.7,444.0 L413.2,458.4 L417.1,474.4Z" fill="url(#gSphB)" stroke="#8ab6ea" stroke-width="1" stroke-linejoin="round"/><rect x="405.1" y="501.8" width="4" height="1.2" fill="#9a8ec8" opacity="0.35" transform="rotate(0 407.1 502.4)"/><rect x="400.6" y="516.9" width="4" height="1.2" fill="#9a8ec8" opacity="0.35" transform="rotate(37 402.6 517.5)"/><rect x="392.2" y="530.9" width="4" height="1.2" fill="#9a8ec8" opacity="0.35" transform="rotate(74 394.2 531.5)"/><rect x="377.7" y="538.5" width="4" height="1.2" fill="#9a8ec8" opacity="0.35" transform="rotate(111 379.7 539.1)"/><rect x="364.1" y="546.8" width="4" height="1.2" fill="#9a8ec8" opacity="0.35" transform="rotate(148 366.1 547.4)"/><rect x="348.0" y="546.8" width="4" height="1.2" fill="#9a8ec8" opacity="0.35" transform="rotate(5 350.0 547.4)"/><rect x="332.2" y="547.8" width="4" height="1.2" fill="#9a8ec8" opacity="0.35" transform="rotate(42 334.2 548.4)"/><rect x="316.2" y="545.0" width="4" height="1.2" fill="#9a8ec8" opacity="0.35" transform="rotate(79 318.2 545.6)"/><rect x="304.0" y="534.2" width="4" height="1.2" fill="#9a8ec8" opacity="0.35" transform="rotate(116 306.0 534.8)"/><rect x="291.3" y="524.3" width="4" height="1.2" fill="#9a8ec8" opacity="0.35" transform="rotate(153 293.3 524.9)"/><rect x="285.7" y="509.3" width="4" height="1.2" fill="#9a8ec8" opacity="0.35" transform="rotate(10 287.7 509.9)"/><rect x="279.1" y="494.9" width="4" height="1.2" fill="#9a8ec8" opacity="0.35" transform="rotate(47 281.1 495.5)"/><rect x="276.1" y="478.9" width="4" height="1.2" fill="#9a8ec8" opacity="0.35" transform="rotate(84 278.1 479.5)"/><rect x="281.9" y="463.7" width="4" height="1.2" fill="#9a8ec8" opacity="0.35" transform="rotate(121 283.9 464.3)"/><rect x="286.6" y="448.4" width="4" height="1.2" fill="#9a8ec8" opacity="0.35" transform="rotate(158 288.6 449.0)"/><rect x="298.7" y="437.7" width="4" height="1.2" fill="#9a8ec8" opacity="0.35" transform="rotate(15 300.7 438.3)"/><rect x="309.7" y="426.5" width="4" height="1.2" fill="#9a8ec8" opacity="0.35" transform="rotate(52 311.7 427.1)"/><rect x="323.6" y="418.0" width="4" height="1.2" fill="#9a8ec8" opacity="0.35" transform="rotate(89 325.6 418.6)"/><rect x="339.9" y="418.0" width="4" height="1.2" fill="#9a8ec8" opacity="0.35" transform="rotate(126 341.9 418.6)"/><rect x="355.9" y="417.0" width="4" height="1.2" fill="#9a8ec8" opacity="0.35" transform="rotate(163 357.9 417.6)"/><rect x="370.1" y="424.5" width="4" height="1.2" fill="#9a8ec8" opacity="0.35" transform="rotate(20 372.1 425.1)"/><rect x="384.6" y="430.9" width="4" height="1.2" fill="#9a8ec8" opacity="0.35" transform="rotate(57 386.6 431.5)"/><rect x="397.4" y="440.9" width="4" height="1.2" fill="#9a8ec8" opacity="0.35" transform="rotate(94 399.4 441.5)"/><rect x="403.2" y="456.1" width="4" height="1.2" fill="#9a8ec8" opacity="0.35" transform="rotate(131 405.2 456.7)"/><rect x="409.9" y="470.7" width="4" height="1.2" fill="#9a8ec8" opacity="0.35" transform="rotate(168 411.9 471.3)"/><rect x="407.9" y="486.6" width="4" height="1.2" fill="#9a8ec8" opacity="0.35" transform="rotate(25 409.9 487.2)"/><path d="M289.9,447.1 C291.6,447.4 296.4,449.0 299.9,449.0 C303.4,449.0 307.1,448.0 310.7,447.1 C314.3,446.2 317.9,443.6 321.5,443.5 C325.1,443.4 329.3,445.1 332.3,446.2 C335.3,447.3 336.0,449.8 339.6,449.9 C343.2,450.0 351.6,447.6 354.0,447.1" fill="none" stroke="#1a56e4" stroke-width="2.3" stroke-linecap="round"/><path d="M329.6,454.4 C330.4,452.9 331.8,447.6 334.2,445.3 C336.6,443.0 342.4,441.6 344.0,440.8" fill="none" stroke="#1a56e4" stroke-width="2.3" stroke-linecap="round"/><path d="M299.9,443.5 C299.8,444.9 298.6,447.9 299.0,451.7 C299.4,455.5 301.7,461.9 302.6,466.1 C303.5,470.3 304.8,473.6 304.4,476.9 C303.9,480.2 301.0,482.4 299.9,486.0 C298.8,489.6 297.6,494.4 298.0,498.6 C298.4,502.8 301.4,507.0 302.6,511.2 C303.8,515.4 304.9,521.8 305.3,523.9" fill="none" stroke="#1a56e4" stroke-width="2.3" stroke-linecap="round"/><path d="M296.2,482.3 C298.0,482.6 303.6,484.1 307.1,484.2 C310.6,484.3 315.4,483.4 317.0,483.2" fill="none" stroke="#1a56e4" stroke-width="2.3" stroke-linecap="round"/><path d="M334.2,465.2 C334.8,466.9 337.7,472.2 337.8,475.1 C337.9,478.0 336.2,479.9 335.0,482.3 C333.8,484.7 331.1,486.3 330.5,489.6 C329.9,492.9 330.8,498.6 331.4,502.2 C332.0,505.8 333.1,507.6 334.2,511.2 C335.3,514.8 337.2,521.8 337.8,523.9" fill="none" stroke="#1a56e4" stroke-width="2.3" stroke-linecap="round"/><path d="M328.7,481.4 C330.5,481.2 336.0,480.0 339.6,480.5 C343.2,481.0 347.7,482.7 350.4,484.2 C353.1,485.7 353.1,488.2 355.8,489.6 C358.5,491.0 363.0,491.9 366.6,492.3 C370.2,492.8 374.5,491.9 377.5,492.3 C380.5,492.8 382.6,493.9 384.7,495.0 C386.8,496.1 389.2,498.0 390.1,498.6" fill="none" stroke="#1a56e4" stroke-width="2.3" stroke-linecap="round"/><path d="M381.1,433.6 C381.4,435.4 382.4,440.5 382.9,444.4 C383.3,448.3 383.8,452.6 383.8,457.1 C383.8,461.6 383.9,467.9 382.9,471.5 C381.8,475.1 378.9,476.0 377.5,478.7 C376.1,481.4 374.8,484.6 374.8,487.8 C374.8,491.0 377.1,496.1 377.5,497.7" fill="none" stroke="#1a56e4" stroke-width="2.3" stroke-linecap="round"/><path d="M370.3,448.0 C372.1,447.7 377.8,445.6 381.1,446.2 C384.4,446.8 388.6,450.8 390.1,451.7" fill="none" stroke="#1a56e4" stroke-width="2.3" stroke-linecap="round"/><path d="M294.4,523.9 C296.2,524.0 301.7,525.2 305.3,524.8 C308.9,524.3 312.5,522.3 316.1,521.2 C319.7,520.1 323.3,518.5 326.9,518.4 C330.5,518.2 336.0,520.0 337.8,520.3" fill="none" stroke="#1a56e4" stroke-width="2.3" stroke-linecap="round"/><path d="M355.8,523.0 C357.3,522.5 362.1,521.1 364.8,520.3 C367.5,519.5 370.0,518.1 372.0,518.4 C374.0,518.7 376.2,521.4 377.0,522.0" fill="none" stroke="#1a56e4" stroke-width="2.3" stroke-linecap="round"/><path d="M369.4,506.7 C369.8,508.0 371.2,512.2 372.0,514.8 C372.8,517.3 373.6,520.8 373.9,522.0" fill="none" stroke="#1a56e4" stroke-width="2.3" stroke-linecap="round"/><path d="M289.9,447.1 C291.6,447.4 296.4,449.0 299.9,449.0 C303.4,449.0 307.1,448.0 310.7,447.1 C314.3,446.2 317.9,443.6 321.5,443.5 C325.1,443.4 329.3,445.1 332.3,446.2 C335.3,447.3 336.0,449.8 339.6,449.9 C343.2,450.0 351.6,447.6 354.0,447.1" fill="none" stroke="#a8385a" stroke-width="2.18" stroke-dasharray="3.5 21" stroke-dashoffset="-4"/><path d="M329.6,454.4 C330.4,452.9 331.8,447.6 334.2,445.3 C336.6,443.0 342.4,441.6 344.0,440.8" fill="none" stroke="#a8385a" stroke-width="2.18" stroke-dasharray="3.5 21" stroke-dashoffset="-11"/><path d="M299.9,443.5 C299.8,444.9 298.6,447.9 299.0,451.7 C299.4,455.5 301.7,461.9 302.6,466.1 C303.5,470.3 304.8,473.6 304.4,476.9 C303.9,480.2 301.0,482.4 299.9,486.0 C298.8,489.6 297.6,494.4 298.0,498.6 C298.4,502.8 301.4,507.0 302.6,511.2 C303.8,515.4 304.9,521.8 305.3,523.9" fill="none" stroke="#a8385a" stroke-width="2.18" stroke-dasharray="3.5 21" stroke-dashoffset="-18"/><path d="M296.2,482.3 C298.0,482.6 303.6,484.1 307.1,484.2 C310.6,484.3 315.4,483.4 317.0,483.2" fill="none" stroke="#a8385a" stroke-width="2.18" stroke-dasharray="3.5 21" stroke-dashoffset="-8"/><path d="M334.2,465.2 C334.8,466.9 337.7,472.2 337.8,475.1 C337.9,478.0 336.2,479.9 335.0,482.3 C333.8,484.7 331.1,486.3 330.5,489.6 C329.9,492.9 330.8,498.6 331.4,502.2 C332.0,505.8 333.1,507.6 334.2,511.2 C335.3,514.8 337.2,521.8 337.8,523.9" fill="none" stroke="#a8385a" stroke-width="2.18" stroke-dasharray="3.5 21" stroke-dashoffset="-15"/><path d="M328.7,481.4 C330.5,481.2 336.0,480.0 339.6,480.5 C343.2,481.0 347.7,482.7 350.4,484.2 C353.1,485.7 353.1,488.2 355.8,489.6 C358.5,491.0 363.0,491.9 366.6,492.3 C370.2,492.8 374.5,491.9 377.5,492.3 C380.5,492.8 382.6,493.9 384.7,495.0 C386.8,496.1 389.2,498.0 390.1,498.6" fill="none" stroke="#a8385a" stroke-width="2.18" stroke-dasharray="3.5 21" stroke-dashoffset="-5"/><path d="M381.1,433.6 C381.4,435.4 382.4,440.5 382.9,444.4 C383.3,448.3 383.8,452.6 383.8,457.1 C383.8,461.6 383.9,467.9 382.9,471.5 C381.8,475.1 378.9,476.0 377.5,478.7 C376.1,481.4 374.8,484.6 374.8,487.8 C374.8,491.0 377.1,496.1 377.5,497.7" fill="none" stroke="#a8385a" stroke-width="2.18" stroke-dasharray="3.5 21" stroke-dashoffset="-12"/><path d="M370.3,448.0 C372.1,447.7 377.8,445.6 381.1,446.2 C384.4,446.8 388.6,450.8 390.1,451.7" fill="none" stroke="#a8385a" stroke-width="2.18" stroke-dasharray="3.5 21" stroke-dashoffset="-19"/><path d="M294.4,523.9 C296.2,524.0 301.7,525.2 305.3,524.8 C308.9,524.3 312.5,522.3 316.1,521.2 C319.7,520.1 323.3,518.5 326.9,518.4 C330.5,518.2 336.0,520.0 337.8,520.3" fill="none" stroke="#a8385a" stroke-width="2.18" stroke-dasharray="3.5 21" stroke-dashoffset="-9"/><path d="M355.8,523.0 C357.3,522.5 362.1,521.1 364.8,520.3 C367.5,519.5 370.0,518.1 372.0,518.4 C374.0,518.7 376.2,521.4 377.0,522.0" fill="none" stroke="#a8385a" stroke-width="2.18" stroke-dasharray="3.5 21" stroke-dashoffset="-16"/><path d="M369.4,506.7 C369.8,508.0 371.2,512.2 372.0,514.8 C372.8,517.3 373.6,520.8 373.9,522.0" fill="none" stroke="#a8385a" stroke-width="2.18" stroke-dasharray="3.5 21" stroke-dashoffset="-6"/><path d="M357.7,470.3 C360.7,470.1 369.2,468.7 375.6,469.1 C382.0,469.6 390.1,470.8 396.0,473.0 C401.9,475.2 406.8,479.0 411.3,482.4 C415.9,485.8 420.2,490.3 423.3,493.4 C426.4,496.5 428.9,499.8 430.0,501.1 L436.9,500.3 L431.8,515.6 L413.9,509.6 L416.4,506.2 C414.7,504.2 410.2,498.1 406.2,494.3 C402.2,490.5 397.7,486.3 392.6,483.2 C387.5,480.1 381.4,477.4 375.6,475.6 C369.8,473.8 360.7,472.9 357.7,472.3Z" fill="#f3b088"/><circle cx="351.3" cy="468.8" r="7.8" fill="url(#gBallIn)"/><circle cx="318.8" cy="507.6" r="7.8" fill="url(#gBallIn)"/><circle cx="387.4" cy="510.3" r="7.8" fill="url(#gBallIn)"/><circle cx="349.5" cy="523.9" r="7.8" fill="url(#gBallIn)"/><ellipse cx="350.7" cy="523.4" rx="3.5" ry="2.7" fill="#7ae8b0" opacity="0.85" transform="rotate(-35 350.7 523.4)"/><path d="M351.5,522.9 L355.0,518.4 L352.5,523.4Z" fill="#ffffff" opacity="0.9"/><circle cx="316.1" cy="431.8" r="7.8" fill="url(#gBallIn)"/><ellipse cx="317.3" cy="431.3" rx="3.5" ry="2.7" fill="#7ae8b0" opacity="0.85" transform="rotate(-35 317.3 431.3)"/><path d="M318.1,430.8 L321.6,426.3 L319.1,431.3Z" fill="#ffffff" opacity="0.9"/><ellipse cx="440.3" cy="531.3" rx="7.3" ry="5.4" fill="#2ec4a0" opacity="0.35" filter="url(#blur2)"/><circle cx="440.3" cy="526.7" r="7.7" fill="url(#gBall)"/></g>
<g font-family="Liberation Sans, sans-serif" font-weight="bold" filter="url(#soft)">
<text transform="translate(214.83,75.71) rotate(-46.51)" font-size="27" fill="#61cada" text-anchor="middle">E</text><text transform="translate(227.73,63.41) rotate(-40.77)" font-size="27" fill="#60c9d6" text-anchor="middle">X</text><text transform="translate(243.09,51.56) rotate(-34.54)" font-size="27" fill="#5fc9d2" text-anchor="middle">O</text><text transform="translate(261.02,40.71) rotate(-27.80)" font-size="27" fill="#5ec8ce" text-anchor="middle">G</text><text transform="translate(278.76,32.57) rotate(-21.52)" font-size="27" fill="#5dc5cb" text-anchor="middle">E</text><text transform="translate(296.63,26.59) rotate(-15.47)" font-size="27" fill="#5cc3c9" text-anchor="middle">N</text><text transform="translate(316.57,22.28) rotate(-8.91)" font-size="27" fill="#5bc1c6" text-anchor="middle">O</text><text transform="translate(336.95,20.28) rotate(-2.33)" font-size="27" fill="#5abec3" text-anchor="middle">U</text><text transform="translate(355.99,20.52) rotate(3.80)" font-size="27" fill="#5abbc2" text-anchor="middle">S</text><text transform="translate(382.01,24.19) rotate(12.25)" font-size="27" fill="#59b6c1" text-anchor="middle">S</text><text transform="translate(399.14,28.81) rotate(17.95)" font-size="27" fill="#59b4c0" text-anchor="middle">T</text><text transform="translate(410.94,33.10) rotate(21.99)" font-size="27" fill="#59b2bf" text-anchor="middle">I</text><text transform="translate(425.16,39.58) rotate(27.01)" font-size="27" fill="#59afbf" text-anchor="middle">M</text><text transform="translate(443.84,50.58) rotate(33.98)" font-size="27" fill="#59adbe" text-anchor="middle">U</text><text transform="translate(458.82,61.87) rotate(40.01)" font-size="27" fill="#59acbe" text-anchor="middle">L</text><text transform="translate(468.34,70.46) rotate(44.13)" font-size="27" fill="#59abbd" text-anchor="middle">I</text>
<text transform="translate(205.67,153.87) rotate(-70.17)" font-size="27" fill="#62c4eb" text-anchor="middle">L</text><text transform="translate(210.34,142.49) rotate(-65.27)" font-size="27" fill="#62c4eb" text-anchor="middle">i</text><text transform="translate(215.95,131.55) rotate(-60.38)" font-size="27" fill="#62c4eb" text-anchor="middle">g</text><text transform="translate(225.08,117.47) rotate(-53.70)" font-size="27" fill="#62c4eb" text-anchor="middle">h</text><text transform="translate(233.27,107.32) rotate(-48.51)" font-size="27" fill="#62c4eb" text-anchor="middle">t</text>
<text transform="translate(253.94,88.33) rotate(-38.24)" font-size="27" fill="#5cc7cc" text-anchor="middle">T</text><text transform="translate(266.68,79.28) rotate(-32.50)" font-size="27" fill="#5bc6ca" text-anchor="middle">e</text><text transform="translate(283.72,69.87) rotate(-25.34)" font-size="27" fill="#5ac4c9" text-anchor="middle">m</text><text transform="translate(302.58,62.39) rotate(-17.89)" font-size="27" fill="#59c3c7" text-anchor="middle">p</text><text transform="translate(317.94,58.29) rotate(-12.05)" font-size="27" fill="#59c2c5" text-anchor="middle">e</text><text transform="translate(330.74,56.11) rotate(-7.27)" font-size="27" fill="#59c1c4" text-anchor="middle">r</text><text transform="translate(343.78,55.00) rotate(-2.47)" font-size="27" fill="#59bdc3" text-anchor="middle">a</text><text transform="translate(356.19,54.96) rotate(2.09)" font-size="27" fill="#59bac2" text-anchor="middle">t</text><text transform="translate(369.39,56.00) rotate(6.96)" font-size="27" fill="#58b7c0" text-anchor="middle">u</text><text transform="translate(383.28,58.34) rotate(12.13)" font-size="27" fill="#58b4bf" text-anchor="middle">r</text><text transform="translate(396.28,61.72) rotate(17.07)" font-size="27" fill="#58b1bd" text-anchor="middle">e</text>
<text transform="translate(427.97,81.90) rotate(33.88)" font-size="27" fill="#5aacbf" text-anchor="middle">M</text><text transform="translate(443.09,93.57) rotate(41.48)" font-size="27" fill="#5aacbf" text-anchor="middle">a</text><text transform="translate(454.54,104.90) rotate(47.90)" font-size="27" fill="#5aacbf" text-anchor="middle">g</text><text transform="translate(465.09,118.04) rotate(54.60)" font-size="27" fill="#5aacbf" text-anchor="middle">n</text><text transform="translate(473.67,131.68) rotate(61.02)" font-size="27" fill="#5aacbf" text-anchor="middle">e</text><text transform="translate(479.19,142.74) rotate(65.94)" font-size="27" fill="#5aacbf" text-anchor="middle">t</text><text transform="translate(482.47,150.70) rotate(69.36)" font-size="27" fill="#5aacbf" text-anchor="middle">i</text><text transform="translate(486.12,161.73) rotate(73.99)" font-size="27" fill="#5aacbf" text-anchor="middle">c</text>
<text transform="translate(184.65,235.38) rotate(76.36)" font-size="26" fill="#62c4eb" text-anchor="middle">R</text><text transform="translate(190.06,253.20) rotate(69.85)" font-size="26" fill="#62c4eb" text-anchor="middle">O</text><text transform="translate(197.14,269.64) rotate(63.59)" font-size="26" fill="#62c4eb" text-anchor="middle">S</text>
<text transform="translate(214.76,299.90) rotate(53.55)" font-size="26" fill="#62c4eb" text-anchor="middle">p</text><text transform="translate(225.67,313.16) rotate(47.55)" font-size="26" fill="#62c4eb" text-anchor="middle">H</text>
<text transform="translate(253.34,335.97) rotate(34.24)" font-size="26" fill="#62c4ea" text-anchor="middle">E</text><text transform="translate(267.62,344.66) rotate(28.39)" font-size="26" fill="#62c4ea" text-anchor="middle">n</text><text transform="translate(280.72,351.00) rotate(23.31)" font-size="26" fill="#62c4ea" text-anchor="middle">z</text><text transform="translate(293.66,355.94) rotate(18.47)" font-size="26" fill="#62c4ea" text-anchor="middle">y</text><text transform="translate(311.90,360.88) rotate(11.86)" font-size="26" fill="#62c4ea" text-anchor="middle">m</text><text transform="translate(330.59,363.70) rotate(5.25)" font-size="26" fill="#62c4ea" text-anchor="middle">e</text>
<text transform="translate(362.69,360.65) rotate(-5.45)" font-size="26" fill="#63cbc9" text-anchor="middle">G</text><text transform="translate(376.59,358.72) rotate(-10.35)" font-size="26" fill="#62cac9" text-anchor="middle">l</text><text transform="translate(388.17,356.17) rotate(-14.50)" font-size="26" fill="#61c9c8" text-anchor="middle">u</text><text transform="translate(402.95,351.59) rotate(-19.91)" font-size="26" fill="#60c8c7" text-anchor="middle">c</text><text transform="translate(417.24,345.64) rotate(-25.32)" font-size="26" fill="#5ec6c6" text-anchor="middle">o</text><text transform="translate(430.90,338.37) rotate(-30.72)" font-size="26" fill="#5dc5c5" text-anchor="middle">s</text><text transform="translate(443.24,330.27) rotate(-35.88)" font-size="26" fill="#5cc4c4" text-anchor="middle">e</text>
<text transform="translate(470.90,299.06) rotate(-51.13)" font-size="26" fill="#5caebf" text-anchor="middle">R</text><text transform="translate(480.84,285.34) rotate(-57.05)" font-size="26" fill="#5caebf" text-anchor="middle">e</text><text transform="translate(488.64,271.95) rotate(-62.47)" font-size="26" fill="#5caebf" text-anchor="middle">d</text><text transform="translate(495.42,257.22) rotate(-68.13)" font-size="26" fill="#5caebf" text-anchor="middle">o</text><text transform="translate(500.51,242.58) rotate(-73.55)" font-size="26" fill="#5caebf" text-anchor="middle">x</text>
<text transform="translate(207.46,339.17) rotate(45.49)" font-size="27" fill="#62c4eb" text-anchor="middle">E</text><text transform="translate(220.50,351.25) rotate(40.15)" font-size="27" fill="#61c4ea" text-anchor="middle">N</text><text transform="translate(235.31,362.55) rotate(34.56)" font-size="27" fill="#61c4e9" text-anchor="middle">D</text><text transform="translate(251.89,372.77) rotate(28.72)" font-size="27" fill="#60c5e7" text-anchor="middle">O</text><text transform="translate(270.21,381.57) rotate(22.62)" font-size="27" fill="#5fc5e5" text-anchor="middle">G</text><text transform="translate(288.02,387.98) rotate(16.94)" font-size="27" fill="#5ec5e3" text-anchor="middle">E</text><text transform="translate(305.74,392.46) rotate(11.45)" font-size="27" fill="#5ec5e2" text-anchor="middle">N</text><text transform="translate(325.40,395.39) rotate(5.49)" font-size="27" fill="#5dc6e0" text-anchor="middle">O</text><text transform="translate(345.35,396.25) rotate(-0.51)" font-size="27" fill="#5cc6dd" text-anchor="middle">U</text><text transform="translate(363.90,395.18) rotate(-6.08)" font-size="27" fill="#5bc7d5" text-anchor="middle">S</text><text transform="translate(388.98,390.80) rotate(-13.73)" font-size="27" fill="#5ac8cb" text-anchor="middle">S</text><text transform="translate(405.66,385.92) rotate(-18.94)" font-size="27" fill="#5ac8c6" text-anchor="middle">T</text><text transform="translate(417.09,381.58) rotate(-22.61)" font-size="27" fill="#59c7c3" text-anchor="middle">I</text><text transform="translate(430.99,375.12) rotate(-27.21)" font-size="27" fill="#59c7c1" text-anchor="middle">M</text><text transform="translate(449.46,364.28) rotate(-33.64)" font-size="27" fill="#59c6bd" text-anchor="middle">U</text><text transform="translate(464.36,353.28) rotate(-39.20)" font-size="27" fill="#58b3bd" text-anchor="middle">L</text><text transform="translate(473.88,344.98) rotate(-42.98)" font-size="27" fill="#57abbd" text-anchor="middle">I</text>
</g>
</svg>

</body></html>
